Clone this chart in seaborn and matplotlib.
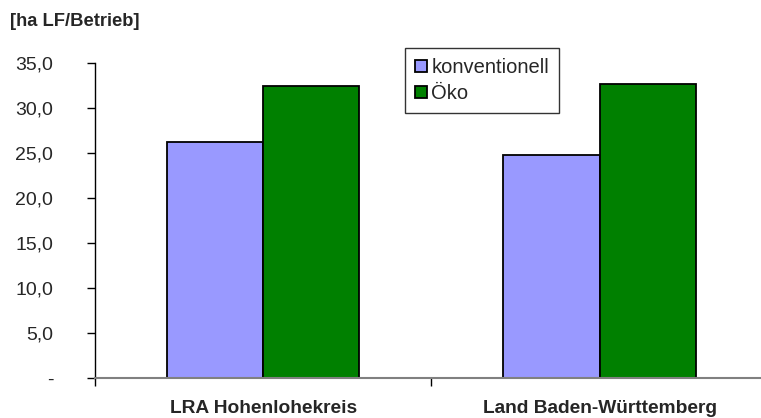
import matplotlib
matplotlib.use("Agg")
import matplotlib.pyplot as plt
import pandas as pd
import seaborn as sns

regions = ["LRA Hohenlohekreis", "Land Baden-Württemberg"]
types = ["konventionell", "Öko"]
konventionell = [26.2, 24.8]
oeko = [32.4, 32.7]
yticks = [0, 5, 10, 15, 20, 25, 30, 35]
ytick_labels = ["-", "5,0", "10,0", "15,0", "20,0", "25,0", "30,0", "35,0"]

df = pd.DataFrame({
    "region": regions * 2,
    "typ": [types[0]] * 2 + [types[1]] * 2,
    "ha": konventionell + oeko,
})

sns.set_style("white")
plt.rcParams['font.family'] = ['Liberation Sans', 'DejaVu Sans']

fig = plt.figure(figsize=(7.61, 4.18), dpi=100)
ax = fig.add_axes([95 / 761, 40 / 418, 666 / 761, 315 / 418])

sns.barplot(data=df, x="region", y="ha", hue="typ", order=regions, hue_order=types,
            palette=["#9999FF", "#008000"], width=0.572, edgecolor="black",
            linewidth=1.3, saturation=1, ax=ax)

ax.set_xlim(-0.5, 1.48)
ax.set_ylim(0, 35)
ax.set_yticks(yticks)
ax.set_yticklabels(ytick_labels, fontsize=14)
ax.set_xticks([-0.5, 0.5])
ax.set_xticklabels(["", ""])
for i, r in enumerate(regions):
    ax.text(i, -3.35, r, ha="center", va="center", fontsize=13.8, fontweight="bold")
ax.tick_params(axis="y", direction="out", length=6, width=1, pad=24, left=True, color="black")
ax.tick_params(axis="x", direction="out", length=6, width=1, bottom=True, color="black")
ax.set_xlabel("")
ax.set_ylabel("")

for s in ["top", "right"]:
    ax.spines[s].set_visible(False)
ax.spines["left"].set_color("black")
ax.spines["left"].set_linewidth(1)
ax.spines["bottom"].set_color("#808080")
ax.spines["bottom"].set_linewidth(1.5)

fig.text(10 / 761, 1 - 21 / 418, "[ha LF/Betrieb]", fontsize=13.2, fontweight="bold",
         ha="left", va="center")

leg = ax.legend(loc="upper left", bbox_to_anchor=(405 / 761, 1 - 48 / 418),
                bbox_transform=fig.transFigure, fontsize=14.5, frameon=True, fancybox=False,
                handlelength=0.6, handleheight=0.6, handletextpad=0.2, borderpad=0.5,
                labelspacing=0.35, borderaxespad=0)
leg.get_frame().set_edgecolor("black")
leg.get_frame().set_linewidth(1)

fig.savefig("out.png", dpi=100)
